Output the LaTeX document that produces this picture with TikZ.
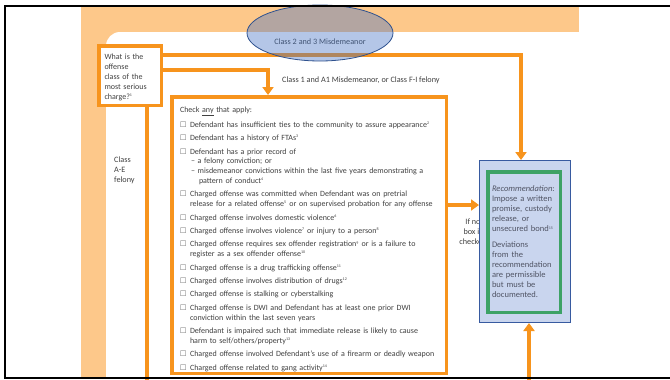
\documentclass[tikz,border=0pt]{standalone}
\usepackage{amsmath, amssymb}
\usepackage{fontspec}
\setmainfont{Carlito}
\usepackage{tikz}
\usepackage{xcolor}
\usetikzlibrary{positioning, arrows.meta, shapes.geometric}
\definecolor{flworange}{RGB}{247, 148, 29}
\definecolor{bgorange}{RGB}{253, 200, 138}
\definecolor{ovalblue}{RGB}{68, 114, 196}
\definecolor{ovaldraw}{RGB}{47, 82, 143}
\definecolor{recfill}{RGB}{201, 213, 238}
\definecolor{recdraw}{RGB}{55, 90, 160}
\definecolor{recgreen}{RGB}{61, 162, 102}
\definecolor{txtgray}{RGB}{64, 64, 64}
\definecolor{rectext}{RGB}{80, 84, 100}
\newcommand{\fnote}[1]{\textsuperscript{\fontsize{4}{4}\selectfont#1}}
\newcommand{\chkitem}[1]{\par\vspace{3.6pt}\hangindent=10pt\hangafter=1\noindent\makebox[10pt][l]{$\square$}#1}
\tikzset{
    flowline/.style={draw=flworange, line width=4pt},
    flowarrow/.style={flowline, -{Triangle[width=11pt, length=8pt]}},
    labelnode/.style={font=\fontsize{8.2}{10}\selectfont, text=txtgray, align=left, inner sep=0pt},
    qnode/.style={draw=flworange, line width=3.5pt, fill=white, minimum width=62.5pt, minimum height=59.5pt,
        inner sep=0pt, text width=51pt, align=left, font=\fontsize{8}{10}\selectfont, text=txtgray},
    listnode/.style={draw=flworange, line width=3.5pt, minimum width=274.5pt, minimum height=276.5pt,
        inner sep=0pt, text width=258pt, align=left, font=\fontsize{8}{9.8}\selectfont, text=txtgray},
    recnode/.style={draw=recdraw, fill=recfill, line width=1pt, minimum width=91pt, minimum height=162pt, inner sep=0pt},
    innernode/.style={draw=recgreen, line width=3.5pt, minimum width=72.5pt, minimum height=140.5pt,
        inner sep=0pt, text width=64pt, align=left, font=\fontsize{8.5}{10}\selectfont, text=rectext},
    ovalnode/.style={draw=ovaldraw, line width=0.8pt, fill=ovalblue, fill opacity=0.4}
}
\begin{document}
\begin{tikzpicture}[x=1pt, y=-1pt]
    \useasboundingbox (0,0) rectangle (670,380);
    \fill[bgorange] (81,7) rectangle (579,378);
    \fill[white, rounded corners=14pt] (106,32) rectangle (640,400);

    \node[qnode] (question) at (130,75.5) {\rule{0pt}{9pt}What is the\\offense\\class of the\\most serious\\charge?\fnote{1}};
    \node[listnode] (checklist) at (309,235) {\rule{0pt}{14pt}Check \underline{any} that apply:\par\vspace{1.5pt}
        \chkitem{Defendant has insufficient ties to the community to assure appearance\fnote{2}}
        \chkitem{Defendant has a history of FTAs\fnote{3}}
        \chkitem{Defendant has a prior record of\newline\hspace*{1pt}\textendash\ a felony conviction; or\newline
            \hspace*{1pt}\textendash\ misdemeanor convictions within the last five years demonstrating a\newline
            \hspace*{9pt}pattern of conduct\fnote{4}}
        \chkitem{Charged offense was committed when Defendant was on pretrial\newline
            release for a related offense\fnote{5} or on supervised probation for any offense}
        \chkitem{Charged offense involves domestic violence\fnote{6}}
        \chkitem{Charged offense involves violence\fnote{7} or injury to a person\fnote{8}}
        \chkitem{Charged offense requires sex offender registration\fnote{9} or is a failure to\newline
            register as a sex offender offense\fnote{10}}
        \chkitem{Charged offense is a drug trafficking offense\fnote{11}}
        \chkitem{Charged offense involves distribution of drugs\fnote{12}}
        \chkitem{Charged offense is stalking or cyberstalking}
        \chkitem{Charged offense is DWI and Defendant has at least one prior DWI\newline
            conviction within the last seven years}
        \chkitem{Defendant is impaired such that immediate release is likely to cause\newline
            harm to self/others/property\fnote{13}}
        \chkitem{Charged offense involved Defendant's use of a firearm or deadly weapon}
        \chkitem{Charged offense related to gang activity\fnote{14}}};
    \node[labelnode, anchor=base west] (lowlabel) at (282,82) {Class 1 and A1 Misdemeanor, or Class F-I felony};
    \node[labelnode, anchor=base] (misdlabel) at (320,45) {Class 2 and 3 Misdemeanor};
    \node[labelnode, anchor=north west] (fellabel) at (114,157) {Class\\A-E\\felony};
    \node[labelnode, align=center] (ifnone) at (473,232) {If no\\box is\\checked};
    \node[recnode] (rec) at (525,241.5) {};
    \node[innernode] (advice) at (524,242) {\textit{Recommendation}:\\Impose a written\\promise, custody\\release, or\\
        unsecured bond\fnote{15}\\[6pt]Deviations\\from the\\recommendation\\are permissible\\but must be\\documented.};

    \coordinate (misdturn) at (521,55);
    \coordinate (lowturn) at (268,70);
    \coordinate (felend) at (147,381);
    \coordinate (noneflow) at (0,205);
    \coordinate (backend) at (529,381);
    \draw[flowarrow] (question.east |- misdturn) -| (rec.north -| misdturn);
    \draw[flowarrow] (question.east |- lowturn) -| (checklist.north -| lowturn);
    \draw[flowline] (question.south -| felend) -- (felend);
    \draw[flowarrow] (checklist.east |- noneflow) -- (rec.west |- noneflow);
    \draw[flowarrow] (backend) -- (rec.south -| backend);

    \draw[ovalnode] (320,33) ellipse [x radius=73, y radius=28];
    \draw[line width=2.5pt] (671,6) -- (5,6) -- (5,379);
    \draw[line width=1.5pt] (4,378) -- (671,378);
\end{tikzpicture}
\end{document}
